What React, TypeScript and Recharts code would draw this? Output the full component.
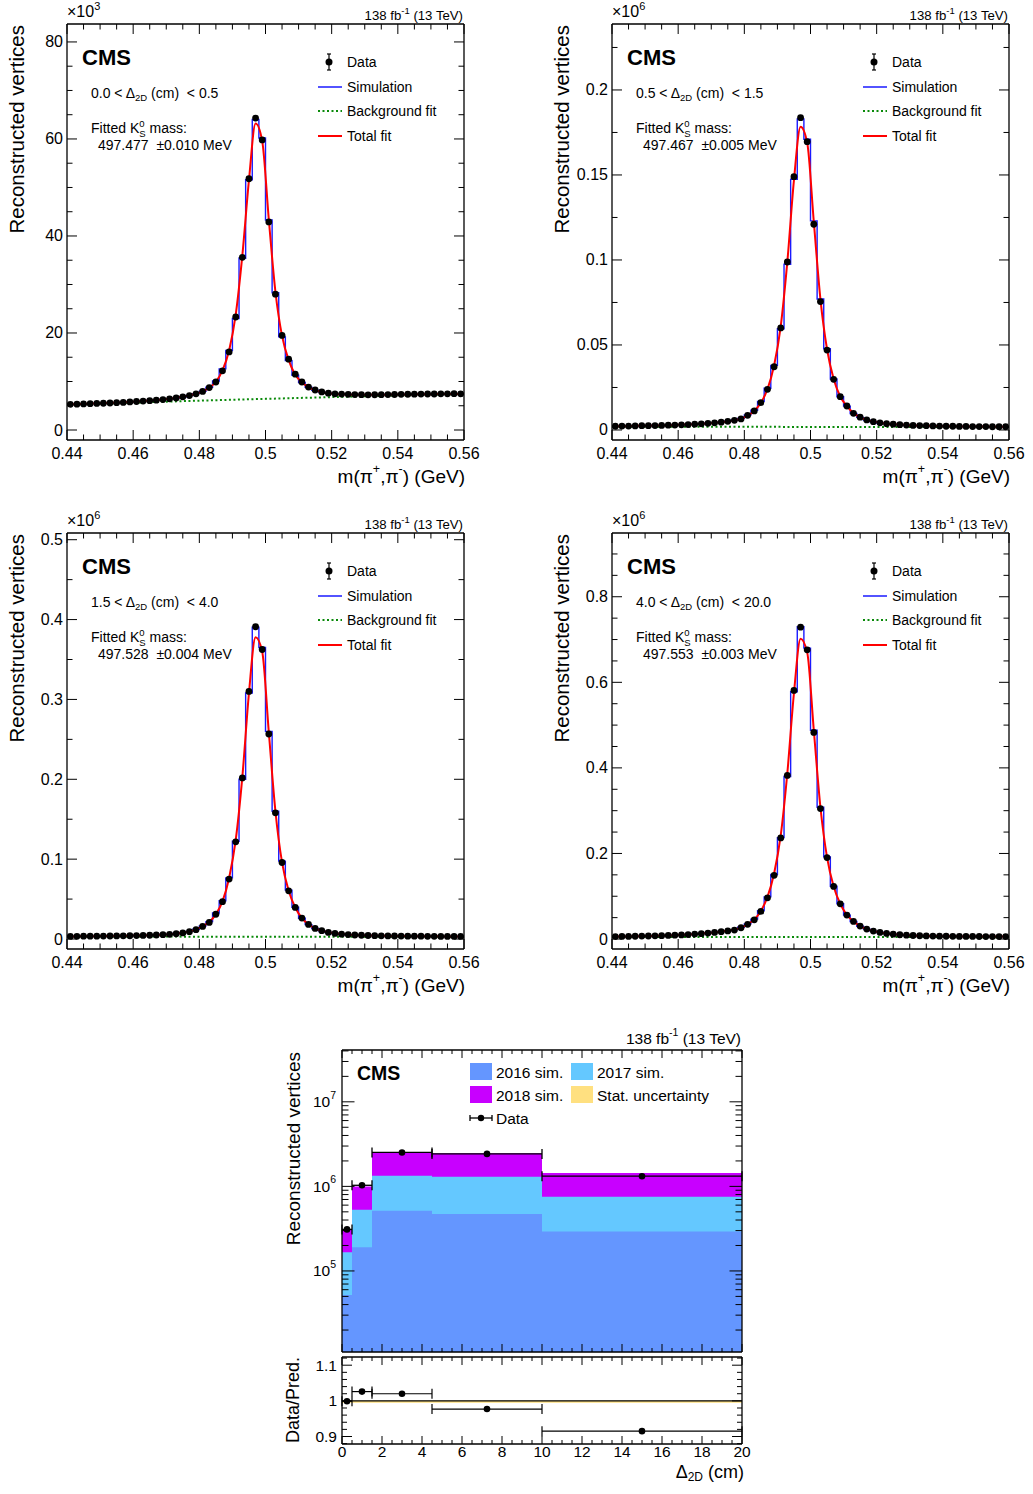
import React from 'react';
import { ComposedChart, Line, Scatter, Area, XAxis, YAxis, ErrorBar, ReferenceLine, ReferenceArea } from 'recharts';

const FONT = '"Liberation Sans", Arial, Helvetica, sans-serif';

// K0S mass histograms: 2 MeV bins between 0.44 and 0.56 GeV (bin centres)
const massCentres = [
  0.441, 0.443, 0.445, 0.447, 0.449, 0.451, 0.453, 0.455, 0.457, 0.459,
  0.461, 0.463, 0.465, 0.467, 0.469, 0.471, 0.473, 0.475, 0.477, 0.479,
  0.481, 0.483, 0.485, 0.487, 0.489, 0.491, 0.493, 0.495, 0.497, 0.499,
  0.501, 0.503, 0.505, 0.507, 0.509, 0.511, 0.513, 0.515, 0.517, 0.519,
  0.521, 0.523, 0.525, 0.527, 0.529, 0.531, 0.533, 0.535, 0.537, 0.539,
  0.541, 0.543, 0.545, 0.547, 0.549, 0.551, 0.553, 0.555, 0.557, 0.559,
];
const massRange: [number, number] = [0.44, 0.56];
const binHalf = 0.001;
const bgMass = [0.44, 0.47, 0.5, 0.53, 0.56];

// 0.0 < d < 0.5 cm  (x10^3)
const data05 = [
  5.30, 5.33, 5.37, 5.42, 5.47, 5.52, 5.57, 5.63, 5.68, 5.78,
  5.88, 5.97, 6.05, 6.16, 6.28, 6.42, 6.60, 6.85, 7.10, 7.45,
  7.95, 8.75, 9.90, 12.2, 16.1, 23.3, 35.6, 51.8, 64.3, 59.8,
  42.9, 28.0, 19.5, 14.6, 11.5, 9.90, 8.85, 8.25, 7.85, 7.60,
  7.45, 7.40, 7.35, 7.30, 7.28, 7.25, 7.27, 7.28, 7.30, 7.32,
  7.35, 7.37, 7.38, 7.40, 7.42, 7.42, 7.45, 7.45, 7.50, 7.45,
];
const sim05 = [
  5.28, 5.34, 5.36, 5.43, 5.46, 5.53, 5.58, 5.62, 5.70, 5.76,
  5.86, 5.98, 6.07, 6.15, 6.30, 6.45, 6.58, 6.82, 7.12, 7.50,
  8.00, 8.80, 10.1, 12.6, 16.4, 23.0, 35.4, 51.6, 64.0, 60.2,
  43.3, 28.3, 19.2, 14.3, 11.3, 9.80, 8.80, 8.20, 7.80, 7.58,
  7.44, 7.38, 7.34, 7.31, 7.27, 7.26, 7.26, 7.29, 7.31, 7.33,
  7.34, 7.36, 7.39, 7.41, 7.41, 7.43, 7.44, 7.46, 7.48, 7.46,
];
const fit05 = [
  5.27, 5.32, 5.37, 5.42, 5.47, 5.52, 5.58, 5.64, 5.70, 5.77,
  5.86, 5.96, 6.06, 6.17, 6.30, 6.45, 6.63, 6.85, 7.12, 7.48,
  7.98, 8.72, 9.95, 12.3, 16.4, 23.8, 36.0, 51.5, 63.2, 59.6,
  43.4, 28.5, 19.4, 14.4, 11.4, 9.85, 8.85, 8.25, 7.85, 7.58,
  7.44, 7.36, 7.31, 7.28, 7.27, 7.27, 7.27, 7.28, 7.29, 7.31,
  7.32, 7.34, 7.35, 7.37, 7.38, 7.40, 7.41, 7.43, 7.44, 7.46,
];
const bg05 = [5.22, 5.85, 6.42, 6.95, 7.42];

// 0.5 < d < 1.5 cm  (x10^6)
const data15 = [
  0.0022, 0.0023, 0.0023, 0.0024, 0.0025, 0.0025, 0.0026, 0.0027, 0.0028, 0.0029,
  0.0030, 0.0032, 0.0034, 0.0036, 0.0039, 0.0042, 0.0046, 0.0051, 0.0057, 0.0065,
  0.0086, 0.0112, 0.0161, 0.0239, 0.0372, 0.0600, 0.0988, 0.1490, 0.1837, 0.1696,
  0.1210, 0.0755, 0.0470, 0.0298, 0.0196, 0.0141, 0.0098, 0.0075, 0.0059, 0.0049,
  0.0042, 0.0037, 0.0034, 0.0031, 0.0029, 0.0027, 0.0026, 0.0025, 0.0024, 0.0023,
  0.0022, 0.0022, 0.0021, 0.0021, 0.0020, 0.0020, 0.0020, 0.0019, 0.0019, 0.0019,
];
const sim15 = [
  0.0021, 0.0022, 0.0023, 0.0024, 0.0024, 0.0025, 0.0026, 0.0027, 0.0028, 0.0030,
  0.0031, 0.0033, 0.0035, 0.0037, 0.0040, 0.0043, 0.0047, 0.0052, 0.0059, 0.0068,
  0.0089, 0.0116, 0.0168, 0.0245, 0.0380, 0.0595, 0.0975, 0.1475, 0.1830, 0.1710,
  0.1230, 0.0770, 0.0478, 0.0300, 0.0195, 0.0140, 0.0097, 0.0074, 0.0058, 0.0048,
  0.0041, 0.0036, 0.0033, 0.0030, 0.0028, 0.0027, 0.0026, 0.0025, 0.0024, 0.0023,
  0.0022, 0.0021, 0.0021, 0.0020, 0.0020, 0.0020, 0.0019, 0.0019, 0.0019, 0.0018,
];
const fit15 = [
  0.0021, 0.0022, 0.0023, 0.0024, 0.0025, 0.0025, 0.0026, 0.0027, 0.0028, 0.0029,
  0.0031, 0.0032, 0.0034, 0.0036, 0.0039, 0.0042, 0.0046, 0.0051, 0.0058, 0.0066,
  0.0084, 0.0112, 0.0160, 0.0240, 0.0380, 0.0610, 0.0990, 0.1470, 0.1784, 0.1690,
  0.1225, 0.0770, 0.0475, 0.0300, 0.0197, 0.0140, 0.0099, 0.0075, 0.0059, 0.0049,
  0.0042, 0.0037, 0.0033, 0.0031, 0.0029, 0.0027, 0.0026, 0.0025, 0.0024, 0.0023,
  0.0022, 0.0022, 0.0021, 0.0021, 0.0020, 0.0020, 0.0020, 0.0019, 0.0019, 0.0019,
];
const bg15 = [0.0019, 0.0019, 0.0018, 0.0018, 0.0017];

// 1.5 < d < 4.0 cm  (x10^6)
const data40 = [
  0.0033, 0.0034, 0.0035, 0.0036, 0.0036, 0.0037, 0.0038, 0.0039, 0.0040, 0.0041,
  0.0043, 0.0045, 0.0047, 0.0050, 0.0054, 0.0059, 0.0066, 0.0076, 0.0092, 0.0117,
  0.0158, 0.0208, 0.0310, 0.0467, 0.0750, 0.1217, 0.2017, 0.3100, 0.3910, 0.3625,
  0.2567, 0.1580, 0.0958, 0.0604, 0.0396, 0.0262, 0.0183, 0.0133, 0.0104, 0.0083,
  0.0070, 0.0061, 0.0055, 0.0050, 0.0047, 0.0044, 0.0042, 0.0040, 0.0039, 0.0038,
  0.0037, 0.0036, 0.0035, 0.0035, 0.0034, 0.0034, 0.0033, 0.0033, 0.0032, 0.0032,
];
const sim40 = [
  0.0032, 0.0034, 0.0034, 0.0035, 0.0036, 0.0037, 0.0038, 0.0039, 0.0041, 0.0042,
  0.0044, 0.0046, 0.0049, 0.0052, 0.0056, 0.0061, 0.0069, 0.0080, 0.0096, 0.0122,
  0.0165, 0.0218, 0.0325, 0.0480, 0.0765, 0.1225, 0.2000, 0.3080, 0.3905, 0.3650,
  0.2600, 0.1600, 0.0975, 0.0612, 0.0398, 0.0260, 0.0180, 0.0131, 0.0102, 0.0082,
  0.0069, 0.0060, 0.0054, 0.0050, 0.0046, 0.0044, 0.0042, 0.0040, 0.0039, 0.0038,
  0.0037, 0.0036, 0.0035, 0.0034, 0.0034, 0.0033, 0.0033, 0.0032, 0.0032, 0.0031,
];
const fit40 = [
  0.0032, 0.0033, 0.0034, 0.0035, 0.0036, 0.0037, 0.0038, 0.0039, 0.0040, 0.0042,
  0.0043, 0.0045, 0.0048, 0.0051, 0.0055, 0.0060, 0.0067, 0.0078, 0.0094, 0.0120,
  0.0160, 0.0212, 0.0312, 0.0472, 0.0765, 0.1240, 0.2030, 0.3080, 0.3780, 0.3600,
  0.2590, 0.1600, 0.0960, 0.0605, 0.0395, 0.0262, 0.0183, 0.0134, 0.0104, 0.0084,
  0.0071, 0.0062, 0.0055, 0.0050, 0.0047, 0.0044, 0.0042, 0.0040, 0.0039, 0.0038,
  0.0037, 0.0036, 0.0035, 0.0035, 0.0034, 0.0034, 0.0033, 0.0033, 0.0032, 0.0032,
];
const bg40 = [0.0030, 0.0030, 0.0029, 0.0029, 0.0028];

// 4.0 < d < 20.0 cm  (x10^6)
const data200 = [
  0.0058, 0.0060, 0.0062, 0.0065, 0.0068, 0.0071, 0.0075, 0.0079, 0.0084, 0.0090,
  0.0097, 0.0105, 0.0115, 0.0126, 0.0139, 0.0154, 0.0171, 0.0189, 0.0210, 0.0264,
  0.0343, 0.0450, 0.0645, 0.0963, 0.1490, 0.2363, 0.3825, 0.5810, 0.7290, 0.6760,
  0.4830, 0.3050, 0.1905, 0.1230, 0.0824, 0.0560, 0.0412, 0.0303, 0.0233, 0.0187,
  0.0154, 0.0130, 0.0113, 0.0100, 0.0090, 0.0083, 0.0077, 0.0073, 0.0070, 0.0067,
  0.0065, 0.0063, 0.0062, 0.0061, 0.0060, 0.0059, 0.0058, 0.0058, 0.0057, 0.0057,
];
const sim200 = [
  0.0057, 0.0059, 0.0062, 0.0064, 0.0067, 0.0071, 0.0074, 0.0079, 0.0085, 0.0091,
  0.0098, 0.0107, 0.0117, 0.0129, 0.0142, 0.0158, 0.0176, 0.0196, 0.0220, 0.0275,
  0.0355, 0.0465, 0.0665, 0.0985, 0.1510, 0.2370, 0.3800, 0.5780, 0.7300, 0.6800,
  0.4880, 0.3080, 0.1920, 0.1235, 0.0826, 0.0558, 0.0410, 0.0300, 0.0231, 0.0185,
  0.0152, 0.0129, 0.0112, 0.0099, 0.0089, 0.0082, 0.0076, 0.0072, 0.0069, 0.0066,
  0.0064, 0.0062, 0.0061, 0.0060, 0.0059, 0.0058, 0.0058, 0.0057, 0.0057, 0.0056,
];
const fit200 = [
  0.0057, 0.0059, 0.0062, 0.0065, 0.0068, 0.0071, 0.0075, 0.0080, 0.0085, 0.0091,
  0.0098, 0.0106, 0.0116, 0.0127, 0.0140, 0.0155, 0.0172, 0.0192, 0.0220, 0.0268,
  0.0345, 0.0455, 0.0655, 0.0985, 0.1530, 0.2420, 0.3880, 0.5750, 0.7020, 0.6700,
  0.4880, 0.3080, 0.1910, 0.1230, 0.0824, 0.0562, 0.0413, 0.0304, 0.0234, 0.0188,
  0.0155, 0.0131, 0.0114, 0.0101, 0.0091, 0.0083, 0.0077, 0.0073, 0.0070, 0.0067,
  0.0065, 0.0063, 0.0062, 0.0061, 0.0060, 0.0059, 0.0058, 0.0058, 0.0057, 0.0057,
];
const bg200 = [0.0048, 0.0047, 0.0046, 0.0045, 0.0044];

const massMajors = [0.44, 0.46, 0.48, 0.5, 0.52, 0.54, 0.56];
const massLabels = ['0.44', '0.46', '0.48', '0.5', '0.52', '0.54', '0.56'];

// Delta_2D summary histogram
const dEdges = [0, 0.5, 1.5, 4.5, 10, 20];
const sim2016 = [5.2e4, 1.9e5, 5.15e5, 4.71e5, 2.93e5];
const sim2017 = [1.14e5, 3.4e5, 8.25e5, 8.29e5, 4.62e5];
const sim2018 = [1.41e5, 4.7e5, 1.14e6, 1.17e6, 6.85e5];
const dCentres = [0.25, 1, 3, 7.25, 15];
const dHalfWidths = [0.25, 0.5, 1.5, 2.75, 5];
const dData = [3.1e5, 1.03e6, 2.52e6, 2.42e6, 1.32e6];
const dRatio = [0.999, 1.026, 1.020, 0.977, 0.915];
const dMajors = [0, 2, 4, 6, 8, 10, 12, 14, 16, 18, 20];
const dLabels = ['0', '2', '4', '6', '8', '10', '12', '14', '16', '18', '20'];
const logMajors = [1e5, 1e6, 1e7];
const logLabels = ['5', '6', '7'];
const ratioMajors = [0.9, 1, 1.1];
const ratioLabels = ['0.9', '1', '1.1'];

type MassPanelDef = {
  ox: number; oy: number;
  data: number[]; sim: number[]; fit: number[]; bg: number[];
  yDomain: [number, number]; yMajors: number[]; yLabels: string[]; yMinor: number;
  exp: string; lo: string; hi: string; mass: string; err: string;
};

const panels: MassPanelDef[] = [
  { ox: 0, oy: 0, data: data05, sim: sim05, fit: fit05, bg: bg05, yDomain: [-2.06, 83.7], yMajors: [0, 20, 40, 60, 80], yLabels: ['0', '20', '40', '60', '80'], yMinor: 5, exp: '3', lo: '0.0', hi: '0.5', mass: '497.477', err: '0.010' },
  { ox: 545, oy: 0, data: data15, sim: sim15, fit: fit15, bg: bg15, yDomain: [-0.0059, 0.2388], yMajors: [0, 0.05, 0.1, 0.15, 0.2], yLabels: ['0', '0.05', '0.1', '0.15', '0.2'], yMinor: 0.025, exp: '6', lo: '0.5', hi: '1.5', mass: '497.467', err: '0.005' },
  { ox: 0, oy: 509, data: data40, sim: sim40, fit: fit40, bg: bg40, yDomain: [-0.0125, 0.5084], yMajors: [0, 0.1, 0.2, 0.3, 0.4, 0.5], yLabels: ['0', '0.1', '0.2', '0.3', '0.4', '0.5'], yMinor: 0.05, exp: '6', lo: '1.5', hi: '4.0', mass: '497.528', err: '0.004' },
  { ox: 545, oy: 509, data: data200, sim: sim200, fit: fit200, bg: bg200, yDomain: [-0.0233, 0.949], yMajors: [0, 0.2, 0.4, 0.6, 0.8], yLabels: ['0', '0.2', '0.4', '0.6', '0.8'], yMinor: 0.05, exp: '6', lo: '4.0', hi: '20.0', mass: '497.553', err: '0.003' },
];

const steps = (a: number, b: number, s: number) => {
  const out: number[] = [];
  for (let k = Math.ceil(a / s - 1e-9); k * s <= b + 1e-9; k++) out.push(k * s);
  return out;
};
const close = (m: number, v: number) => Math.abs(m - v) <= 1e-6 * Math.max(1e-3, Math.abs(m));

const logTicks: number[] = [];
for (let d = 1e4; d <= 1e7; d *= 10) for (let k = 1; k <= 9; k++) if (k * d >= 1.1e4 && k * d <= 4.1e7) logTicks.push(k * d);

type Side = 'bottom' | 'top' | 'left' | 'right';
function makeTick(side: Side, majors: number[], labels: React.ReactNode[] | null, len: number, minorLen: number, fs = 16, gap = 13) {
  const T = (props: any) => {
    const { x, y, payload } = props;
    const idx = majors.findIndex((m) => close(m, payload.value));
    const l = idx >= 0 ? len : minorLen;
    let x2 = x, y2 = y;
    if (side === 'bottom') y2 = y - l;
    if (side === 'top') y2 = y + l;
    if (side === 'left') x2 = x + l;
    if (side === 'right') x2 = x - l;
    const lab = labels && idx >= 0 ? labels[idx] : null;
    return (
      <g>
        <line x1={x} y1={y} x2={x2} y2={y2} stroke="#000" strokeWidth={1} />
        {lab != null && side === 'bottom' && (
          <text x={x} y={y + gap} textAnchor="middle" dominantBaseline="central" fontSize={fs} fontFamily={FONT} fill="#000">{lab}</text>
        )}
        {lab != null && side === 'left' && (
          <text x={x - gap} y={y} textAnchor="end" dominantBaseline="central" fontSize={fs} fontFamily={FONT} fill="#000">{lab}</text>
        )}
      </g>
    );
  };
  return T;
}

const AXL = { stroke: '#000', strokeWidth: 1.3 };
const massTicks = steps(0.44, 0.56, 0.005);
const massBottomTick = makeTick('bottom', massMajors, massLabels, 10, 5.5, 16, 13);
const massTopTick = makeTick('top', massMajors, null, 10, 5.5);

const dot = (r: number) => (props: any) => <circle cx={props.cx} cy={props.cy} r={r} fill="#000" />;

// axes get 1px of room; margins are reduced by the same amount
const common = { tickSize: 0, tickMargin: 0, tickLine: false, axisLine: AXL, interval: 0 as const, allowDataOverflow: true };
const frameMargin = (top: number, left: number, right: number, bottom: number) => ({ top: top - 1, left: left - 1, right: right - 1, bottom: bottom - 1 });

const CW = 520;
const CH = 500;

function MassPanel({ p }: { p: MassPanelDef }) {
  const pts = massCentres.map((c, i) => ({ x: c, y: p.data[i] }));
  const hist = massCentres.map((c, i) => ({ x: c - binHalf, y: p.sim[i] }));
  hist.push({ x: massRange[1], y: p.sim[p.sim.length - 1] });
  const fitPts = massCentres.map((c, i) => ({ x: c, y: p.fit[i] }));
  const bgPts = bgMass.map((x, i) => ({ x, y: p.bg[i] }));
  const yTicks = steps(0, p.yDomain[1], p.yMinor);
  const leftTick = makeTick('left', p.yMajors, p.yLabels, 10, 5.5, 16, 4);
  const rightTick = makeTick('right', p.yMajors, null, 10, 5.5);
  return (
    <div style={{ position: 'absolute', left: p.ox, top: p.oy }}>
      <ComposedChart width={CW} height={CH} margin={frameMargin(24, 67, CW - 464, CH - 440)}>
        <XAxis xAxisId="b" dataKey="x" type="number" domain={massRange} ticks={massTicks} height={1} tick={massBottomTick} {...common} />
        <XAxis xAxisId="t" orientation="top" dataKey="x" type="number" domain={massRange} ticks={massTicks} height={1} tick={massTopTick} {...common} />
        <YAxis yAxisId="l" type="number" domain={p.yDomain} ticks={yTicks} width={1} tick={leftTick} {...common} />
        <YAxis yAxisId="r" orientation="right" type="number" domain={p.yDomain} ticks={yTicks} width={1} tick={rightTick} {...common} />
        <Line xAxisId="b" yAxisId="l" data={hist} dataKey="y" type="stepAfter" stroke="#1a1aff" strokeWidth={1.4} dot={false} isAnimationActive={false} />
        <Line xAxisId="b" yAxisId="l" data={bgPts} dataKey="y" type="monotone" stroke="#0a8a0a" strokeWidth={2} strokeDasharray="2 2.5" dot={false} isAnimationActive={false} />
        <Line xAxisId="b" yAxisId="l" data={fitPts} dataKey="y" type="monotone" stroke="#ff0000" strokeWidth={2} dot={false} isAnimationActive={false} />
        <Scatter xAxisId="b" yAxisId="l" data={pts} dataKey="y" shape={dot(3.4)} isAnimationActive={false} />
      </ComposedChart>
    </div>
  );
}

const histDomain: [number, number] = [1.1e4, 4.1e7];
const dTicks = steps(0, 20, 0.5);

function DeltaHist() {
  const rows = dEdges.map((e, i) => {
    const k = Math.min(i, sim2016.length - 1);
    const a = sim2016[k];
    const b = a + sim2017[k];
    const c = b + sim2018[k];
    return { x: e, s16: a, s17: b, s18: c };
  });
  const pts = dCentres.map((c, i) => ({ x: c, y: dData[i], xe: dHalfWidths[i] }));
  const logLab = logLabels.map((e) => (
    <>10<tspan dy={-7} fontSize={10.5}>{e}</tspan></>
  ));
  return (
    <div style={{ position: 'absolute', left: 280, top: 1030 }}>
      <ComposedChart width={480} height={340} margin={frameMargin(20, 62, 480 - 462, 340 - 322)}>
        <XAxis xAxisId="b" dataKey="x" type="number" domain={[0, 20]} ticks={dTicks} height={1} tick={makeTick('bottom', dMajors, null, 8, 4)} {...common} />
        <XAxis xAxisId="t" orientation="top" dataKey="x" type="number" domain={[0, 20]} ticks={dTicks} height={1} tick={makeTick('top', dMajors, null, 8, 4)} {...common} />
        <YAxis yAxisId="l" type="number" scale="log" domain={histDomain} ticks={logTicks} width={1} tick={makeTick('left', logMajors, logLab, 12.5, 6.5, 15.5, 6)} {...common} />
        <YAxis yAxisId="r" orientation="right" type="number" scale="log" domain={histDomain} ticks={logTicks} width={1} tick={makeTick('right', logMajors, null, 12.5, 6.5)} {...common} />
        <Area xAxisId="b" yAxisId="l" data={rows} dataKey="s18" type="stepAfter" baseValue={histDomain[0]} fill="#c800ff" fillOpacity={1} stroke="none" isAnimationActive={false} />
        <Area xAxisId="b" yAxisId="l" data={rows} dataKey="s17" type="stepAfter" baseValue={histDomain[0]} fill="#64c8ff" fillOpacity={1} stroke="none" isAnimationActive={false} />
        <Area xAxisId="b" yAxisId="l" data={rows} dataKey="s16" type="stepAfter" baseValue={histDomain[0]} fill="#6496ff" fillOpacity={1} stroke="none" isAnimationActive={false} />
        <Scatter xAxisId="b" yAxisId="l" data={pts} dataKey="y" shape={dot(3.3)} isAnimationActive={false}>
          <ErrorBar dataKey="xe" direction="x" width={5} stroke="#000" strokeWidth={1.3} />
        </Scatter>
      </ComposedChart>
    </div>
  );
}

function DeltaRatio() {
  const pts = dCentres.map((c, i) => ({ x: c, y: dRatio[i], xe: dHalfWidths[i] }));
  const rTicks = steps(0.88, 1.12, 0.02);
  return (
    <div style={{ position: 'absolute', left: 280, top: 1340 }}>
      <ComposedChart width={480} height={140} margin={frameMargin(17, 62, 480 - 462, 140 - 104)}>
        <XAxis xAxisId="b" dataKey="x" type="number" domain={[0, 20]} ticks={dTicks} height={1} tick={makeTick('bottom', dMajors, dLabels, 8, 4, 15.5, 7)} {...common} />
        <XAxis xAxisId="t" orientation="top" dataKey="x" type="number" domain={[0, 20]} ticks={dTicks} height={1} tick={makeTick('top', dMajors, null, 8, 4)} {...common} />
        <YAxis yAxisId="l" type="number" domain={[0.879, 1.123]} ticks={rTicks} width={1} tick={makeTick('left', ratioMajors, ratioLabels, 10, 5, 15.5, 5)} {...common} />
        <YAxis yAxisId="r" orientation="right" type="number" domain={[0.879, 1.123]} ticks={rTicks} width={1} tick={makeTick('right', ratioMajors, null, 10, 5)} {...common} />
        <ReferenceArea xAxisId="b" yAxisId="l" y1={0.995} y2={1.0} fill="#ffe080" fillOpacity={1} stroke="none" />
        <ReferenceLine xAxisId="b" yAxisId="l" y={1} stroke="#000" strokeWidth={1.2} />
        <Scatter xAxisId="b" yAxisId="l" data={pts} dataKey="y" shape={dot(3.3)} isAnimationActive={false}>
          <ErrorBar dataKey="xe" direction="x" width={5} stroke="#000" strokeWidth={1.2} />
        </Scatter>
      </ComposedChart>
    </div>
  );
}

function PanelText({ p }: { p: MassPanelDef }) {
  return (
    <g transform={`translate(${p.ox},${p.oy})`}>
      <text x={67} y={11} fontSize={16}>×10<tspan dy={-5} fontSize={11}>{p.exp}</tspan></text>
      <text x={463} y={15} fontSize={13.2} textAnchor="end">138 fb<tspan dy={-5} fontSize={9.5}>-1</tspan><tspan dy={5}> (13 TeV)</tspan></text>
      <text x={82} y={57} fontSize={22} fontWeight="bold">CMS</text>
      <text x={91} y={93} fontSize={14} style={{ whiteSpace: 'pre' }}>{p.lo} &lt; Δ<tspan dy={4} fontSize={9.5}>2D</tspan><tspan dy={-4}>{' (cm)  < '}{p.hi}</tspan></text>
      <text x={91} y={128} fontSize={14}>Fitted K<tspan dy={-5} fontSize={9.5}>0</tspan><tspan dx={-5.3} dy={10} fontSize={9.5}>S</tspan><tspan dy={-5}> mass:</tspan></text>
      <text x={98} y={145} fontSize={14} style={{ whiteSpace: 'pre' }}>{p.mass}{'  '}±{p.err} MeV</text>
      {/* legend */}
      <line x1={329} y1={54} x2={329} y2={70} stroke="#000" strokeWidth={1.2} />
      <line x1={327} y1={54} x2={331} y2={54} stroke="#000" strokeWidth={1.2} />
      <line x1={327} y1={70} x2={331} y2={70} stroke="#000" strokeWidth={1.2} />
      <circle cx={329} cy={62} r={3.5} fill="#000" />
      <text x={347} y={62} fontSize={14}>Data</text>
      <line x1={318} y1={87} x2={342} y2={87} stroke="#1a1aff" strokeWidth={1.5} />
      <text x={347} y={87} fontSize={14}>Simulation</text>
      <line x1={318} y1={111} x2={342} y2={111} stroke="#0a8a0a" strokeWidth={2} strokeDasharray="2 2.5" />
      <text x={347} y={111} fontSize={14}>Background fit</text>
      <line x1={318} y1={136} x2={342} y2={136} stroke="#ff0000" strokeWidth={2} />
      <text x={347} y={136} fontSize={14}>Total fit</text>
      {/* axis titles */}
      <text transform={`translate(16,25) rotate(-90)`} fontSize={20.5} textAnchor="end">Reconstructed vertices</text>
      <text x={465} y={476} fontSize={19} textAnchor="end">m(π<tspan dy={-7} fontSize={12.5}>+</tspan><tspan dy={7}>,π</tspan><tspan dy={-7} fontSize={12.5}>-</tspan><tspan dy={7}>) (GeV)</tspan></text>
    </g>
  );
}

function Overlay() {
  return (
    <svg width={1033} height={1494} style={{ position: 'absolute', left: 0, top: 0, pointerEvents: 'none', fontFamily: FONT }}>
      <g dominantBaseline="central" fill="#000">
        {panels.map((p, i) => <PanelText key={i} p={p} />)}
        <text x={741} y={1038} fontSize={15.5} textAnchor="end">138 fb<tspan dy={-6} fontSize={10.5}>-1</tspan><tspan dy={6}> (13 TeV)</tspan></text>
        <text x={357} y={1073} fontSize={19.5} fontWeight="bold">CMS</text>
        <rect x={470} y={1063} width={22} height={17} fill="#6496ff" />
        <text x={496} y={1072} fontSize={15.5}>2016 sim.</text>
        <rect x={571} y={1063} width={22} height={17} fill="#64c8ff" />
        <text x={597} y={1072} fontSize={15.5}>2017 sim.</text>
        <rect x={470} y={1086} width={22} height={17} fill="#c800ff" />
        <text x={496} y={1095} fontSize={15.5}>2018 sim.</text>
        <rect x={571} y={1086} width={22} height={17} fill="#ffe080" />
        <text x={597} y={1095} fontSize={15.5}>Stat. uncertainty</text>
        <line x1={470} y1={1118} x2={492} y2={1118} stroke="#000" strokeWidth={1.3} />
        <line x1={470} y1={1115} x2={470} y2={1121} stroke="#000" strokeWidth={1.3} />
        <line x1={492} y1={1115} x2={492} y2={1121} stroke="#000" strokeWidth={1.3} />
        <circle cx={481} cy={1118} r={3.2} fill="#000" />
        <text x={496} y={1118} fontSize={15.5}>Data</text>
        <text transform="translate(293,1052) rotate(-90)" fontSize={19} textAnchor="end">Reconstructed vertices</text>
        <text transform="translate(293,1400) rotate(-90)" fontSize={18} textAnchor="middle">Data/Pred.</text>
        <text x={744} y={1472} fontSize={18} textAnchor="end">Δ<tspan dy={5} fontSize={12}>2D</tspan><tspan dy={-5}> (cm)</tspan></text>
      </g>
    </svg>
  );
}

export default function App() {
  return (
    <div style={{ position: 'absolute', left: 0, top: 0, width: 1033, height: 1494, overflow: 'hidden', background: '#fff', fontFamily: FONT }}>
      {panels.map((p, i) => <MassPanel key={i} p={p} />)}
      <DeltaHist />
      <DeltaRatio />
      <Overlay />
    </div>
  );
}
